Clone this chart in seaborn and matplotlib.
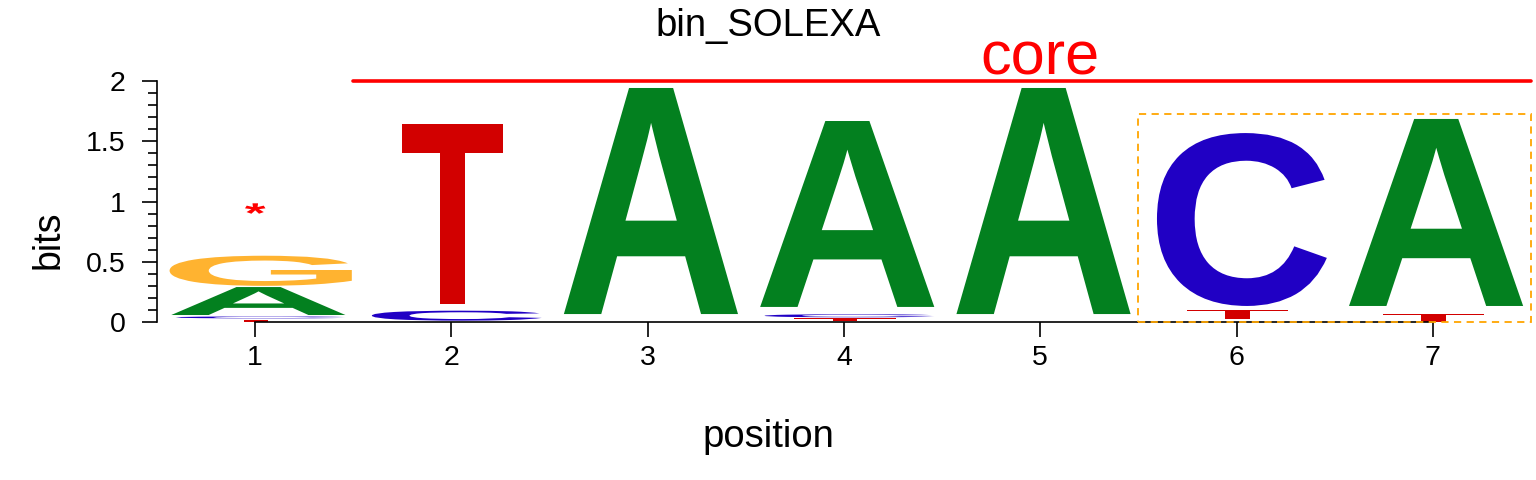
import numpy as np
import matplotlib
matplotlib.use("Agg")
import matplotlib.pyplot as plt
import seaborn as sns
from matplotlib.textpath import TextPath
from matplotlib.font_manager import FontProperties
from matplotlib.patches import PathPatch, Rectangle
from matplotlib.transforms import Affine2D
from matplotlib.ticker import MultipleLocator

# ---- data (bits) : bottom / top of each letter at positions 1..7 ----
positions = [1, 2, 3, 4, 5, 6, 7]
nan = np.nan
A_bot = [0.058, nan, 0.066, 0.125, 0.066, nan, 0.133]
A_top = [0.290, nan, 1.942, 1.668, 1.942, nan, 1.685]
C_bot = [0.030, 0.011, nan, 0.039, nan, 0.133, nan]
C_top = [0.046, 0.094, nan, 0.064, nan, 1.568, nan]
G_bot = [0.300, nan, nan, nan, nan, nan, nan]
G_top = [0.550, nan, nan, nan, nan, nan, nan]
T_bot = [0.000, 0.147, nan, 0.008, nan, 0.025, 0.003]
T_top = [0.020, 1.643, nan, 0.031, nan, 0.100, 0.069]

letters = ["A", "C", "G", "T"]
letter_colors = {"A": "#03801F", "C": "#2000C4", "G": "#FFB330", "T": "#D20000"}
letter_widths = {"A": 0.92, "C": 0.92, "G": 0.985, "T": 0.525}

title = "bin_SOLEXA"
xlabel = "position"
ylabel = "bits"
core_label = "core"
core_span = (1.5, 7.5)
core_level = 2.0
box_span = (5.5, 7.5)
box_top = 1.73
star_pos = 1
star_level = 0.9
yticks = [0, 0.5, 1, 1.5, 2]
yticklabels = ["0", "0.5", "1", "1.5", "2"]

sns.set_style("ticks")
plt.rcParams["font.family"] = ["Liberation Sans", "DejaVu Sans"]
plt.rcParams["text.color"] = "black"
plt.rcParams["axes.labelcolor"] = "black"
plt.rcParams["xtick.color"] = "black"
plt.rcParams["ytick.color"] = "black"

fig = plt.figure(figsize=(15.36, 4.8), dpi=100)
ax = fig.add_axes([157 / 1536, 1 - 322 / 480, (1531 - 157) / 1536, (322 - 81) / 480])

glyph_font = FontProperties(family="Liberation Sans", weight="bold")


def draw_glyph(ax, ch, xc, lo, hi, width, color):
    tp = TextPath((0, 0), ch, size=1, prop=glyph_font)
    verts = tp.vertices
    x0, y0 = verts[:, 0].min(), verts[:, 1].min()
    x1, y1 = verts[:, 0].max(), verts[:, 1].max()
    tr = (Affine2D().translate(-x0, -y0)
          .scale(width / (x1 - x0), (hi - lo) / (y1 - y0))
          .translate(xc - width / 2, lo))
    path = tr.transform_path(tp)
    patch = PathPatch(path, facecolor=color, edgecolor="none", lw=0, clip_on=False)
    ax.add_patch(patch)


bounds = {"A": (A_bot, A_top), "C": (C_bot, C_top), "G": (G_bot, G_top), "T": (T_bot, T_top)}
for L in letters:
    bots, tops = bounds[L]
    for p, b, t in zip(positions, bots, tops):
        if np.isnan(b) or np.isnan(t):
            continue
        draw_glyph(ax, L, p, b, t, letter_widths[L], letter_colors[L])

# asterisk
draw_glyph(ax, "*", star_pos, star_level - 0.075, star_level + 0.085, 0.105, "#FF0000")

ax.set_xlim(0.5, 7.5)
ax.set_ylim(0, 2)
ax.set_xticks(positions)
ax.set_xticklabels([str(p) for p in positions])
ax.set_yticks(yticks)
ax.set_yticklabels(yticklabels)
ax.yaxis.set_minor_locator(MultipleLocator(0.1))
ax.tick_params(axis="both", which="major", length=10.8, width=1.2, labelsize=20.5,
               color="black", labelcolor="black")
ax.tick_params(axis="x", pad=6)
ax.tick_params(axis="y", pad=12)
ax.tick_params(axis="y", which="minor", length=6.5, width=1.2, color="black")
for s in ["top", "right"]:
    ax.spines[s].set_visible(False)
ax.spines["bottom"].set_bounds(positions[0], positions[-1])
ax.spines["left"].set_bounds(0, 2)
for s in ["bottom", "left"]:
    ax.spines[s].set_linewidth(1.2)
    ax.spines[s].set_color("black")
ax.patch.set_alpha(0)

# core line and label
ax.plot(list(core_span), [core_level, core_level], color="#FF0000", lw=2.6,
        clip_on=False, solid_capstyle="round", zorder=5)
ax.text(5, core_level + 0.05, core_label, color="#FF0000", fontsize=44,
        ha="center", va="baseline", clip_on=False)

# dashed box
ax.add_patch(Rectangle((box_span[0], 0), box_span[1] - box_span[0], box_top, fill=False,
                       edgecolor="#FFA500", lw=1.3, ls=(0, (4, 3)), clip_on=False, zorder=6))

fig.text(0.5, 1 - 36 / 480, title, ha="center", va="baseline", fontsize=27.5, color="black")
fig.text(0.5, 1 - 447 / 480, xlabel, ha="center", va="baseline", fontsize=27.5, color="black")
fig.text(49 / 1536, 0.5, ylabel, ha="center", va="center", rotation=90, fontsize=27,
         color="black")

fig.savefig("out.png", dpi=100)
